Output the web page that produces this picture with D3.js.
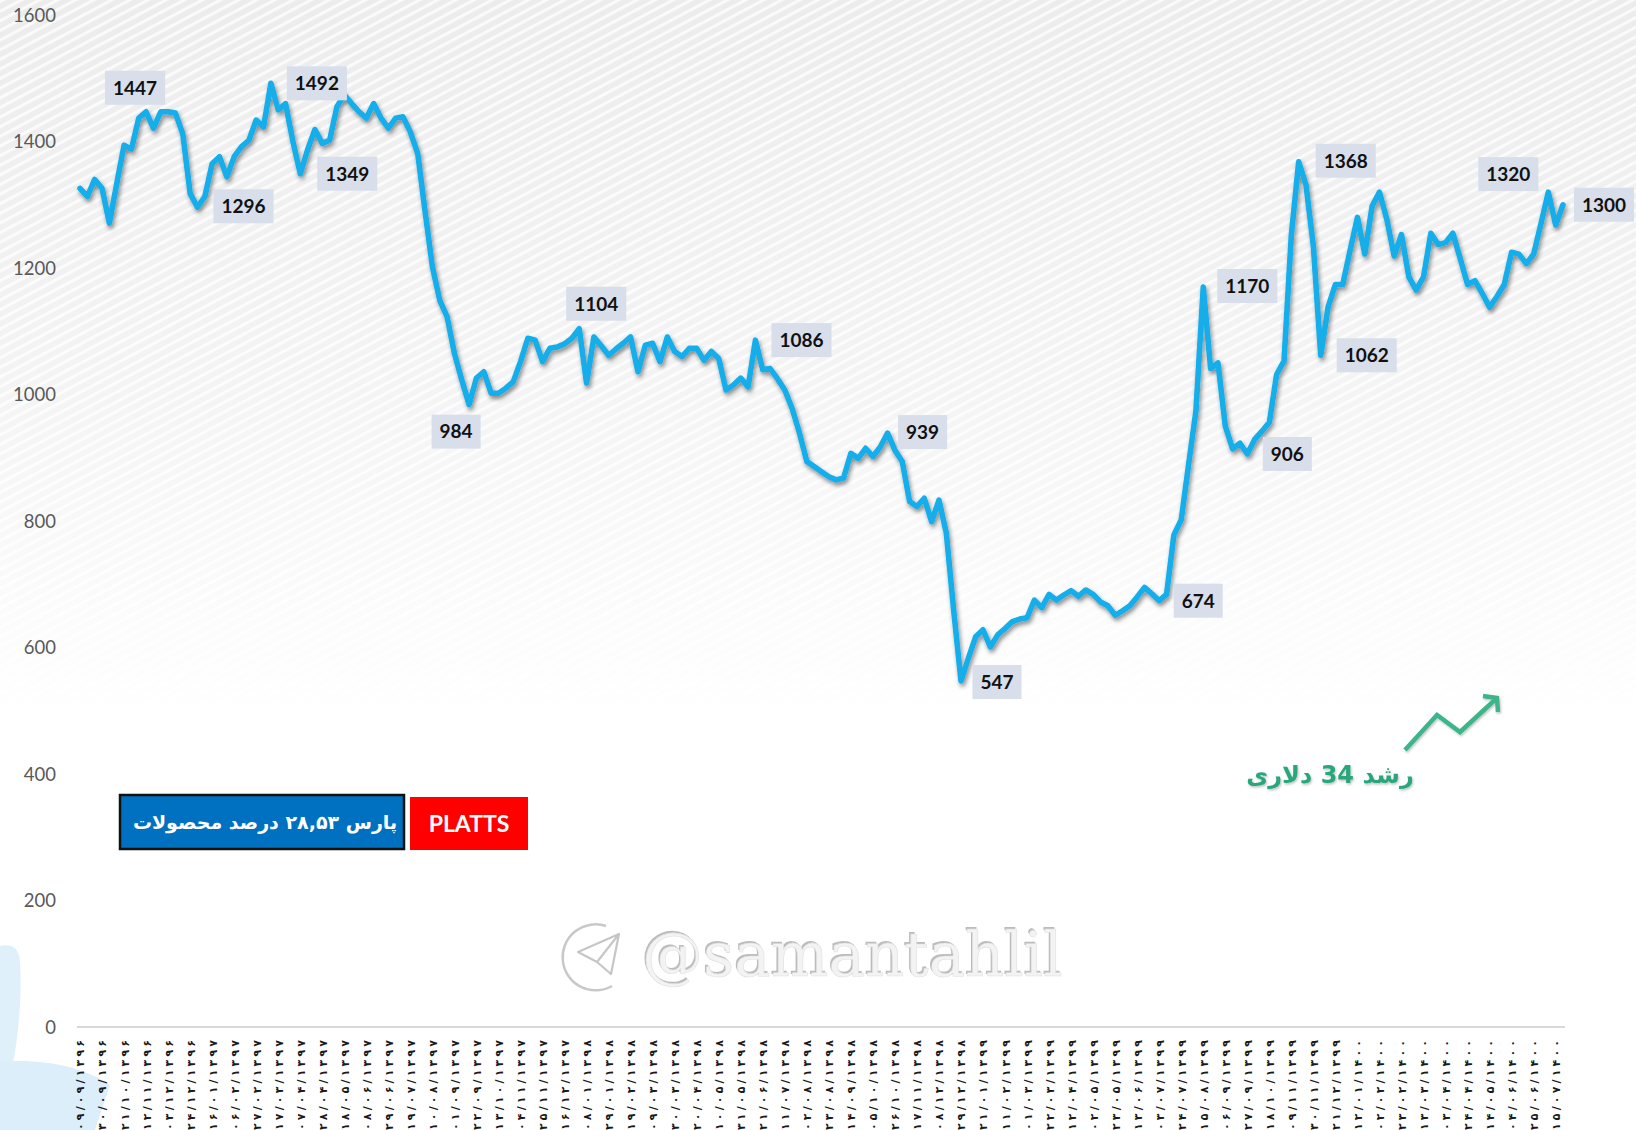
<!DOCTYPE html>
<html><head><meta charset="utf-8">
<script src="https://cdn.jsdelivr.net/npm/d3@7"></script>
<style>html,body{margin:0;padding:0;background:#fff;overflow:hidden;} svg{display:block;}</style>
</head><body>
<svg id="chart" width="1636" height="1130"></svg>
<script>
// ---------- DATA ----------
const values = [
1326,1313,1340,1326,1271,1333,1394,1388,1437,1447,
1421,1447,1447,1445,1412,1318,1296,1313,1365,1376,
1344,1376,1392,1402,1434,1423,1492,1450,1460,1400,
1349,1387,1419,1397,1402,1455,1474,1460,1447,1437,
1460,1437,1421,1437,1439,1415,1381,1290,1202,1149,
1123,1065,1023,984,1026,1036,1002,1002,1010,1020,
1052,1089,1086,1052,1073,1075,1080,1089,1104,1018,
1091,1077,1062,1072,1081,1091,1036,1078,1081,1052,
1091,1068,1060,1073,1073,1054,1068,1057,1007,1015,
1026,1012,1086,1039,1041,1025,1007,978,939,894,
886,878,870,865,868,907,899,915,902,917,
939,912,894,831,823,836,799,833,781,659,
547,583,617,628,601,620,630,641,645,647,
675,663,684,675,683,690,681,691,684,672,
666,651,658,666,680,695,685,674,684,778,
802,889,974,1170,1041,1050,950,914,923,906,
929,942,956,1032,1053,1253,1368,1331,1234,1062,
1138,1174,1174,1228,1280,1222,1298,1320,1277,1219,
1253,1186,1165,1186,1255,1237,1240,1255,1215,1174,
1180,1160,1138,1155,1174,1225,1222,1207,1222,1270,
1320,1268,1300
];
const tickEvery = 3;
const tickLabels = [
"۰۹/۰۹/۱۳۹۶","۳۰/۰۹/۱۳۹۶","۲۱/۱۰/۱۳۹۶","۱۲/۱۱/۱۳۹۶","۰۳/۱۲/۱۳۹۶","۲۴/۱۲/۱۳۹۶",
"۱۶/۰۱/۱۳۹۷","۰۶/۰۲/۱۳۹۷","۲۷/۰۲/۱۳۹۷","۱۷/۰۳/۱۳۹۷","۰۷/۰۴/۱۳۹۷","۲۸/۰۴/۱۳۹۷","۱۸/۰۵/۱۳۹۷","۰۸/۰۶/۱۳۹۷","۲۹/۰۶/۱۳۹۷","۱۹/۰۷/۱۳۹۷","۱۰/۰۸/۱۳۹۷","۰۱/۰۹/۱۳۹۷","۲۲/۰۹/۱۳۹۷","۱۳/۱۰/۱۳۹۷","۰۴/۱۱/۱۳۹۷","۲۵/۱۱/۱۳۹۷","۱۶/۱۲/۱۳۹۷",
"۰۸/۰۱/۱۳۹۸","۲۹/۰۱/۱۳۹۸","۱۹/۰۲/۱۳۹۸","۰۹/۰۳/۱۳۹۸","۳۰/۰۳/۱۳۹۸","۲۰/۰۴/۱۳۹۸","۱۰/۰۵/۱۳۹۸","۳۱/۰۵/۱۳۹۸","۲۱/۰۶/۱۳۹۸","۱۱/۰۷/۱۳۹۸","۰۲/۰۸/۱۳۹۸","۲۳/۰۸/۱۳۹۸","۱۴/۰۹/۱۳۹۸","۰۵/۱۰/۱۳۹۸","۲۶/۱۰/۱۳۹۸","۱۷/۱۱/۱۳۹۸","۰۸/۱۲/۱۳۹۸","۲۹/۱۲/۱۳۹۸",
"۲۱/۰۱/۱۳۹۹","۱۱/۰۲/۱۳۹۹","۰۱/۰۳/۱۳۹۹","۲۲/۰۳/۱۳۹۹","۱۲/۰۴/۱۳۹۹","۰۲/۰۵/۱۳۹۹","۲۳/۰۵/۱۳۹۹","۱۳/۰۶/۱۳۹۹","۰۳/۰۷/۱۳۹۹","۲۴/۰۷/۱۳۹۹","۱۵/۰۸/۱۳۹۹","۰۶/۰۹/۱۳۹۹","۲۷/۰۹/۱۳۹۹","۱۸/۱۰/۱۳۹۹","۰۹/۱۱/۱۳۹۹","۳۰/۱۱/۱۳۹۹","۲۱/۱۲/۱۳۹۹",
"۱۲/۰۱/۱۴۰۰","۰۲/۰۲/۱۴۰۰","۲۳/۰۲/۱۴۰۰","۱۳/۰۳/۱۴۰۰","۰۳/۰۴/۱۴۰۰","۲۴/۰۴/۱۴۰۰","۱۴/۰۵/۱۴۰۰","۰۴/۰۶/۱۴۰۰","۲۵/۰۶/۱۴۰۰","۱۵/۰۷/۱۴۰۰"
];
const yTicks = [0,200,400,600,800,1000,1200,1400,1600];
const annotIdx = [9,26,16,30,53,68,92,110,120,147,153,159,166,169,200,202];
const legendLabels = ["پارس ۲۸,۵۳ درصد محصولات","PLATTS"];
const noteText = "رشد 34 دلاری";
const watermarkText = "@samantahlil";

// ---------- LAYOUT (not data) ----------
const annotOffsets = [[-11,-24],[46,0],[46,-1],[47,0],[-13,27],[17,-25],[46,0],[35,-1],[36,1],[39,0],[44,-1],[40,0],[47,-1],[46,0],[-40,-18],[41,0]];

const W = 1636, H = 1130;
const svg = d3.select('#chart');
const defs = svg.append('defs');

const x = d3.scaleLinear().domain([0, values.length-1]).range([80, 1563]);
const y = d3.scaleLinear().domain([0, 1600]).range([1027, 15]);

// background
const g1 = defs.append('linearGradient').attr('id','bgGrad').attr('gradientUnits','userSpaceOnUse')
  .attr('x1',0).attr('y1',0).attr('x2',0).attr('y2',720);
g1.append('stop').attr('offset',0).attr('stop-color','#ececec');
g1.append('stop').attr('offset',0.55).attr('stop-color','#f4f4f4');
g1.append('stop').attr('offset',1).attr('stop-color','#ffffff');
const pat = defs.append('pattern').attr('id','stripes').attr('patternUnits','userSpaceOnUse')
  .attr('width',30).attr('height',8.5).attr('patternTransform','rotate(-28)');
pat.append('rect').attr('width',30).attr('height',3).attr('fill','#ffffff').attr('fill-opacity',0.75);

const sh = defs.append('filter').attr('id','lineShadow').attr('x','-5%').attr('y','-5%').attr('width','110%').attr('height','115%');
sh.append('feDropShadow').attr('dx',1.5).attr('dy',3).attr('stdDeviation',2.2).attr('flood-color','#000').attr('flood-opacity',0.45);
const sh2 = defs.append('filter').attr('id','txtShadow').attr('x','-10%').attr('y','-30%').attr('width','120%').attr('height','160%');
sh2.append('feDropShadow').attr('dx',1).attr('dy',1.5).attr('stdDeviation',1.2).attr('flood-color','#000').attr('flood-opacity',0.25);

svg.append('rect').attr('width',W).attr('height',H).attr('fill','url(#bgGrad)');
svg.append('rect').attr('width',W).attr('height',760).attr('fill','url(#stripes)');

// corner decorations
svg.append('path').attr('d','M0,946 C10,944 19,946 20,962 C23,1010 15,1070 0,1115 Z').attr('fill','#dff0fa');
svg.append('path').attr('d','M0,1062 C45,1058 85,1068 110,1085 L95,1130 L0,1130 Z').attr('fill','#dbeefa');

// axes
const yAxis = d3.axisLeft(y).tickValues(yTicks).tickSize(0).tickPadding(0).tickFormat(d3.format('d'));
svg.append('g').attr('transform','translate(56,0)').call(yAxis)
  .call(g => g.select('.domain').remove())
  .selectAll('text').attr('font-family','Lato, "Open Sans", sans-serif').attr('font-size',18.5).attr('fill','#595959').attr('dy','0.35em');

svg.append('line').attr('x1',77).attr('x2',1565).attr('y1',y(0)).attr('y2',y(0)).attr('stroke','#d9d9d9').attr('stroke-width',2);

const tickIdx = tickLabels.map((_,k)=>k*tickEvery);
const xAxis = d3.axisBottom(x).tickValues(tickIdx).tickSize(0).tickFormat((d,k)=>tickLabels[k]);
svg.append('g').attr('transform',`translate(0,${y(0)})`).call(xAxis)
  .call(g => g.select('.domain').remove())
  .selectAll('text')
  .attr('transform','rotate(-90)')
  .attr('x',-13).attr('y',0).attr('dy','0.36em')
  .attr('text-anchor','end')
  .attr('direction','ltr')
  .attr('font-family','"DejaVu Sans", sans-serif').attr('font-weight','bold').attr('font-size',11)
  .attr('textLength',90).attr('lengthAdjust','spacing')
  .attr('fill','#1a1a1a');

// watermark
const wm = svg.append('g').attr('opacity',0.95);
wm.append('path').attr('d','M606,926 A33,33 0 1 0 612,986').attr('fill','none').attr('stroke','#c6c6c6').attr('stroke-width',2.5);
wm.append('path').attr('d','M578,952 L619,934 L611,974 L597,962 Z M597,962 L619,934').attr('fill','none').attr('stroke','#c4c4c4').attr('stroke-width',2.2).attr('stroke-linejoin','round');
wm.append('text').attr('x',642).attr('y',976).text(watermarkText)
  .attr('font-family','"DejaVu Serif", serif').attr('font-size',61)
  .attr('fill','#b9b9b9').attr('transform','translate(-1.6,-1.6)');
wm.append('text').attr('x',642).attr('y',976).text(watermarkText)
  .attr('font-family','"DejaVu Serif", serif').attr('font-size',61)
  .attr('fill','#f3f3f3').attr('stroke','#dedede').attr('stroke-width',0.6);

// line
const line = d3.line().x((d,i)=>x(i)).y(d=>y(d));
svg.append('path').datum(values).attr('d',line).attr('fill','none')
  .attr('stroke','#12adeb').attr('stroke-width',5.5).attr('stroke-linejoin','round').attr('stroke-linecap','round')
  .attr('filter','url(#lineShadow)');

// data labels
const lab = svg.append('g');
annotIdx.forEach((idx,k)=>{
  const v = values[idx];
  const cx = x(idx)+annotOffsets[k][0], cy = y(v)+annotOffsets[k][1];
  const gg = lab.append('g');
  const r = gg.append('rect');
  const t = gg.append('text').attr('x',cx).attr('y',cy).attr('dy','0.36em').attr('text-anchor','middle')
    .attr('font-family','Lato, "Open Sans", sans-serif').attr('font-weight','bold').attr('font-size',19)
    .attr('fill','#111').text(String(v));
  const w = t.node().getComputedTextLength() + 16;
  r.attr('x',cx-w/2).attr('y',cy-17).attr('width',w).attr('height',34).attr('fill','#d8dfeb');
});

// legend
svg.append('rect').attr('x',120).attr('y',795).attr('width',284).attr('height',54).attr('fill','#0070c0').attr('stroke','#111').attr('stroke-width',2.5);
svg.append('text').attr('x',265).attr('y',822).attr('dy','0.35em').attr('text-anchor','middle').attr('direction','rtl')
  .attr('font-family','"DejaVu Sans", sans-serif').attr('font-weight','bold').attr('font-size',19).attr('fill','#fff')
  .text(legendLabels[0]);
svg.append('rect').attr('x',410).attr('y',797).attr('width',118).attr('height',53).attr('fill','#ff0000');
svg.append('text').attr('x',469).attr('y',824).attr('dy','0.36em').attr('text-anchor','middle')
  .attr('font-family','Lato, "Open Sans", sans-serif').attr('font-weight','bold').attr('font-size',23).attr('fill','#fff')
  .text(legendLabels[1]);

// growth note
const ag = svg.append('g').attr('filter','url(#txtShadow)');
ag.append('path').attr('d','M1405,750 L1437,715 L1460,732 L1497,698 M1483,696 L1497,698 L1498,712')
  .attr('fill','none').attr('stroke','#3db58b').attr('stroke-width',4.5).attr('stroke-linejoin','miter').attr('stroke-linecap','butt');
ag.append('text').attr('x',1330).attr('y',775).attr('dy','0.35em').attr('text-anchor','middle').attr('direction','rtl')
  .attr('font-family','"DejaVu Sans", sans-serif').attr('font-weight','bold').attr('font-size',24).attr('fill','#2aa67c')
  .text(noteText);
</script>
</body></html>
